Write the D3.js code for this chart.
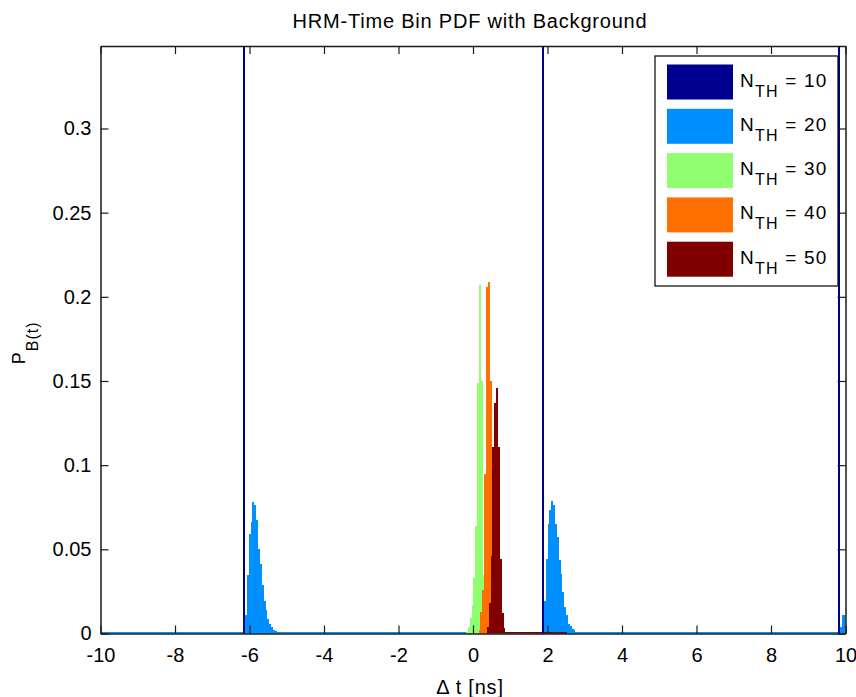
<!DOCTYPE html>
<html>
<head>
<meta charset="utf-8">
<script src="https://cdn.jsdelivr.net/npm/d3@7"></script>
<style>
  body { margin: 0; background: #fff; }
  text { font-family: "Liberation Sans", Arial, sans-serif; fill: #000; }
</style>
</head>
<body>
<svg id="chart" width="856" height="697"></svg>
<script>
// histogram bin width in ns
var binWidth = 0.05;

var thresholds = [10, 20, 30, 40, 50];
var colors = ['#00008f', '#008fff', '#8fff70', '#ff7000', '#800000'];

// N_TH = 10 : one bin per period, taller than the axis
var starts10 = [-6.17, 1.85, 9.80];
var values10 = [0.349, 0.349, 0.349];

// N_TH = 20 : a peak after every N_TH = 10 spike, plus flat background
var starts20 = [-6.17, 1.85, 9.80];
var peakA20 = [0.0038, 0.0107, 0.0345, 0.0593, 0.0663, 0.0782, 0.0762, 0.0673, 0.0504,
  0.0415, 0.0286, 0.0196, 0.0137, 0.0087, 0.0058, 0.0038, 0.0022, 0.0014];
var peakB20 = [0.0077, 0.0196, 0.0444, 0.0653, 0.0732, 0.0785, 0.0762, 0.0653, 0.0573,
  0.0434, 0.0355, 0.0246, 0.0157, 0.0107, 0.0058, 0.0042, 0.0028, 0.0018];
var peakC20 = [0.003, 0.004, 0.011, 0.011];
var background20 = [-10, 10, 0.0008];

// N_TH = 30
var start30 = -0.19;
var peak30 = [0.001, 0.004, 0.009, 0.017, 0.033, 0.064, 0.149, 0.207, 0.150, 0.035, 0.012, 0.004];

// N_TH = 40
var start40 = 0.15;
var peak40 = [0.002, 0.013, 0.026, 0.095, 0.206, 0.209, 0.150, 0.060, 0.020, 0.006, 0.002];

// N_TH = 50
var start50 = 0.37;
var peak50 = [0.004, 0.018, 0.046, 0.111, 0.137, 0.146, 0.111, 0.044, 0.012, 0.003];
var background50 = [0.87, 2.53, 0.0008];

var xTicks = [-10, -8, -6, -4, -2, 0, 2, 4, 6, 8, 10];
var yTicks = [0, 0.05, 0.1, 0.15, 0.2, 0.25, 0.3];
var yMax = 0.349;

var margin = {top: 46, right: 10.5, bottom: 63.5, left: 100.5},
  width = 856 - margin.left - margin.right,
  height = 697 - margin.top - margin.bottom;

var svg = d3.select('#chart');

var x = d3.scaleLinear().domain([-10, 10]).range([0, width]);
var y = d3.scaleLinear().domain([0, yMax]).range([height, 0]);

function toBins(start, values) {
  return values.map(function(v, i) {
    return {x0: start + i * binWidth, x1: start + (i + 1) * binWidth, v: v};
  });
}

var g = svg.append('g')
  .attr('transform', 'translate(' + margin.left + ',' + margin.top + ')');

g.append('clipPath').attr('id', 'plotclip')
  .append('rect').attr('width', width).attr('height', height);

var plot = g.append('g').attr('clip-path', 'url(#plotclip)');

function drawBins(bins, color) {
  plot.append('g').selectAll('rect')
    .data(bins)
    .enter().append('rect')
    .attr('x', function(d) { return x(d.x0); })
    .attr('width', function(d) { return x(d.x1) - x(d.x0); })
    .attr('y', function(d) { return y(d.v); })
    .attr('height', function(d) { return height - y(d.v); })
    .attr('fill', color)
    .attr('shape-rendering', 'crispEdges');
}

// series in MATLAB order, the 10 spikes go last so they stay visible
drawBins([{x0: background20[0], x1: background20[1], v: background20[2]}], colors[1]);
drawBins(toBins(starts20[0], peakA20), colors[1]);
drawBins(toBins(starts20[1], peakB20), colors[1]);
drawBins(toBins(starts20[2], peakC20), colors[1]);
drawBins(toBins(start30, peak30), colors[2]);
drawBins(toBins(start40, peak40), colors[3]);
drawBins(toBins(start50, peak50), colors[4]);
drawBins([{x0: background50[0], x1: background50[1], v: background50[2]}], colors[4]);
drawBins(starts10.map(function(s, i) { return {x0: s, x1: s + binWidth, v: values10[i]}; }), colors[0]);

// axes, with MATLAB style inward ticks on all four sides
var axisColor = '#1a1a1a';
var xAxis = g.append('g')
  .attr('transform', 'translate(0,' + height + ')')
  .call(d3.axisBottom(x).tickValues(xTicks).tickSizeInner(-8).tickSizeOuter(0).tickPadding(14)
    .tickFormat(d3.format('d')));
var yAxis = g.append('g')
  .call(d3.axisLeft(y).tickValues(yTicks).tickSizeInner(-8).tickSizeOuter(0).tickPadding(9)
    .tickFormat(function(d) { return d === 0 ? '0' : String(+d.toFixed(2)); }));
var topAxis = g.append('g')
  .call(d3.axisTop(x).tickValues(xTicks).tickSizeInner(-8).tickSizeOuter(0).tickFormat(''));
var rightAxis = g.append('g')
  .attr('transform', 'translate(' + width + ',0)')
  .call(d3.axisRight(y).tickValues(yTicks).tickSizeInner(-8).tickSizeOuter(0).tickFormat(''));

[xAxis, yAxis, topAxis, rightAxis].forEach(function(a) {
  a.attr('color', axisColor);
  a.select('.domain').attr('stroke-width', 1.5);
  a.selectAll('.tick line').attr('stroke-width', 1.2);
  a.selectAll('.tick text')
    .style('font-size', '20px')
    .style('font-family', '"Liberation Sans", Arial, sans-serif')
    .attr('fill', '#000');
});
xAxis.selectAll('.tick text').text(function(d) { return d < 0 ? '-' + Math.abs(d) : d; });

// title and axis labels
svg.append('text')
  .attr('x', margin.left + width / 2 - 3)
  .attr('y', 28)
  .attr('text-anchor', 'middle')
  .style('font-size', '20px')
  .style('letter-spacing', '0.8px')
  .text('HRM-Time Bin PDF with Background');

svg.append('text')
  .attr('x', margin.left + width / 2 - 3)
  .attr('y', 694)
  .attr('text-anchor', 'middle')
  .style('font-size', '20px')
  .style('letter-spacing', '0.8px')
  .text('\u0394 t [ns]');

var ylab = svg.append('text')
  .attr('transform', 'translate(25,' + (margin.top + height / 2 + 3) + ') rotate(-90)')
  .attr('text-anchor', 'middle')
  .style('font-size', '18px')
  .style('letter-spacing', '1px');
ylab.append('tspan').text('P');
ylab.append('tspan').attr('dy', 13).style('font-size', '16px').text('B(t)');

// legend
var legend = svg.append('g').attr('transform', 'translate(655,56)');
legend.append('rect')
  .attr('width', 183).attr('height', 230)
  .attr('fill', '#fff').attr('stroke', '#000').attr('stroke-width', 1.2);

var item = legend.selectAll('.item')
  .data(thresholds)
  .enter().append('g')
  .attr('transform', function(d, i) { return 'translate(0,' + (8.5 + i * 44.3) + ')'; });

item.append('rect')
  .attr('x', 12).attr('width', 66).attr('height', 35)
  .attr('fill', function(d, i) { return colors[i]; });

var label = item.append('text')
  .attr('x', 85).attr('y', 22)
  .style('font-size', '19px')
  .style('letter-spacing', '1.2px');
label.append('tspan').text('N');
label.append('tspan').attr('dy', 10).style('font-size', '16px').text('TH');
label.append('tspan').attr('dy', -10).text(function(d) { return ' = ' + d; });
</script>
</body>
</html>
